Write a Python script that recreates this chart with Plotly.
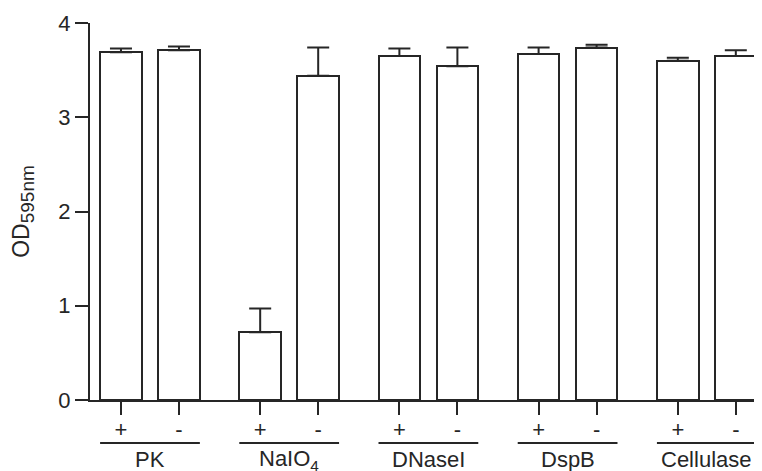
import plotly.graph_objects as go

groups = ["PK", "NaIO<sub>4</sub>", "DNaseI", "DspB", "Cellulase"]
signs = ["+", "-"]
values = [3.69, 3.71, 0.72, 3.44, 3.65, 3.54, 3.67, 3.74, 3.60, 3.65]
errors = [0.04, 0.04, 0.25, 0.30, 0.08, 0.20, 0.07, 0.03, 0.03, 0.06]
y_ticks = [0, 1, 2, 3, 4]

GROUP_STEP = 2.4
BAR_W = 0.72
INK = "#262626"
FONT = "Arial, Liberation Sans, sans-serif"

xs = []
labels = []
for gi, g in enumerate(groups):
    for si, s in enumerate(signs):
        xs.append(gi * GROUP_STEP + si)
        labels.append(s)

fig = go.Figure()
fig.add_trace(go.Bar(
    x=xs, y=values, width=BAR_W,
    marker=dict(color="white", line=dict(color=INK, width=2)),
    error_y=dict(type="data", symmetric=False, array=errors,
                 arrayminus=[0] * len(errors), color=INK, thickness=2, width=11),
    showlegend=False,
))

shapes = []
annotations = []
for gi, g in enumerate(groups):
    x0 = gi * GROUP_STEP - BAR_W / 2
    x1 = gi * GROUP_STEP + 1 + BAR_W / 2
    shapes.append(dict(type="line", xref="x", yref="paper", x0=x0, x1=x1,
                       y0=-0.114, y1=-0.114, line=dict(color=INK, width=2)))
    annotations.append(dict(x=gi * GROUP_STEP + 0.5, y=-0.158, xref="x", yref="paper",
                            text=g, showarrow=False, yanchor="middle",
                            font=dict(family=FONT, size=22, color=INK)))

# page body has an 8px default margin, so the figure is shrunk accordingly
fig.update_layout(
    width=754, height=463,
    margin=dict(l=82, r=2, t=15, b=71),
    plot_bgcolor="white", paper_bgcolor="white",
    font=dict(family=FONT, size=22, color=INK),
    shapes=shapes, annotations=annotations,
    bargap=0,
)
fig.update_xaxes(
    range=[-0.534, 11.017], tickvals=xs, ticktext=labels,
    showline=True, linecolor=INK, linewidth=2,
    ticks="outside", ticklen=13, tickwidth=2, tickcolor=INK,
    showgrid=False, zeroline=False, tickfont=dict(size=22),
    ticklabelstandoff=-4,
)
fig.update_yaxes(
    range=[0, 4], tickvals=y_ticks,
    showline=True, linecolor=INK, linewidth=2,
    ticks="outside", ticklen=13, tickwidth=2, tickcolor=INK,
    showgrid=False, zeroline=False, tickfont=dict(size=22),
    title=dict(text='OD<sub><span style="font-size:19px">595nm</span></sub>',
               font=dict(size=23), standoff=26),
)

fig.write_html("out.html")
